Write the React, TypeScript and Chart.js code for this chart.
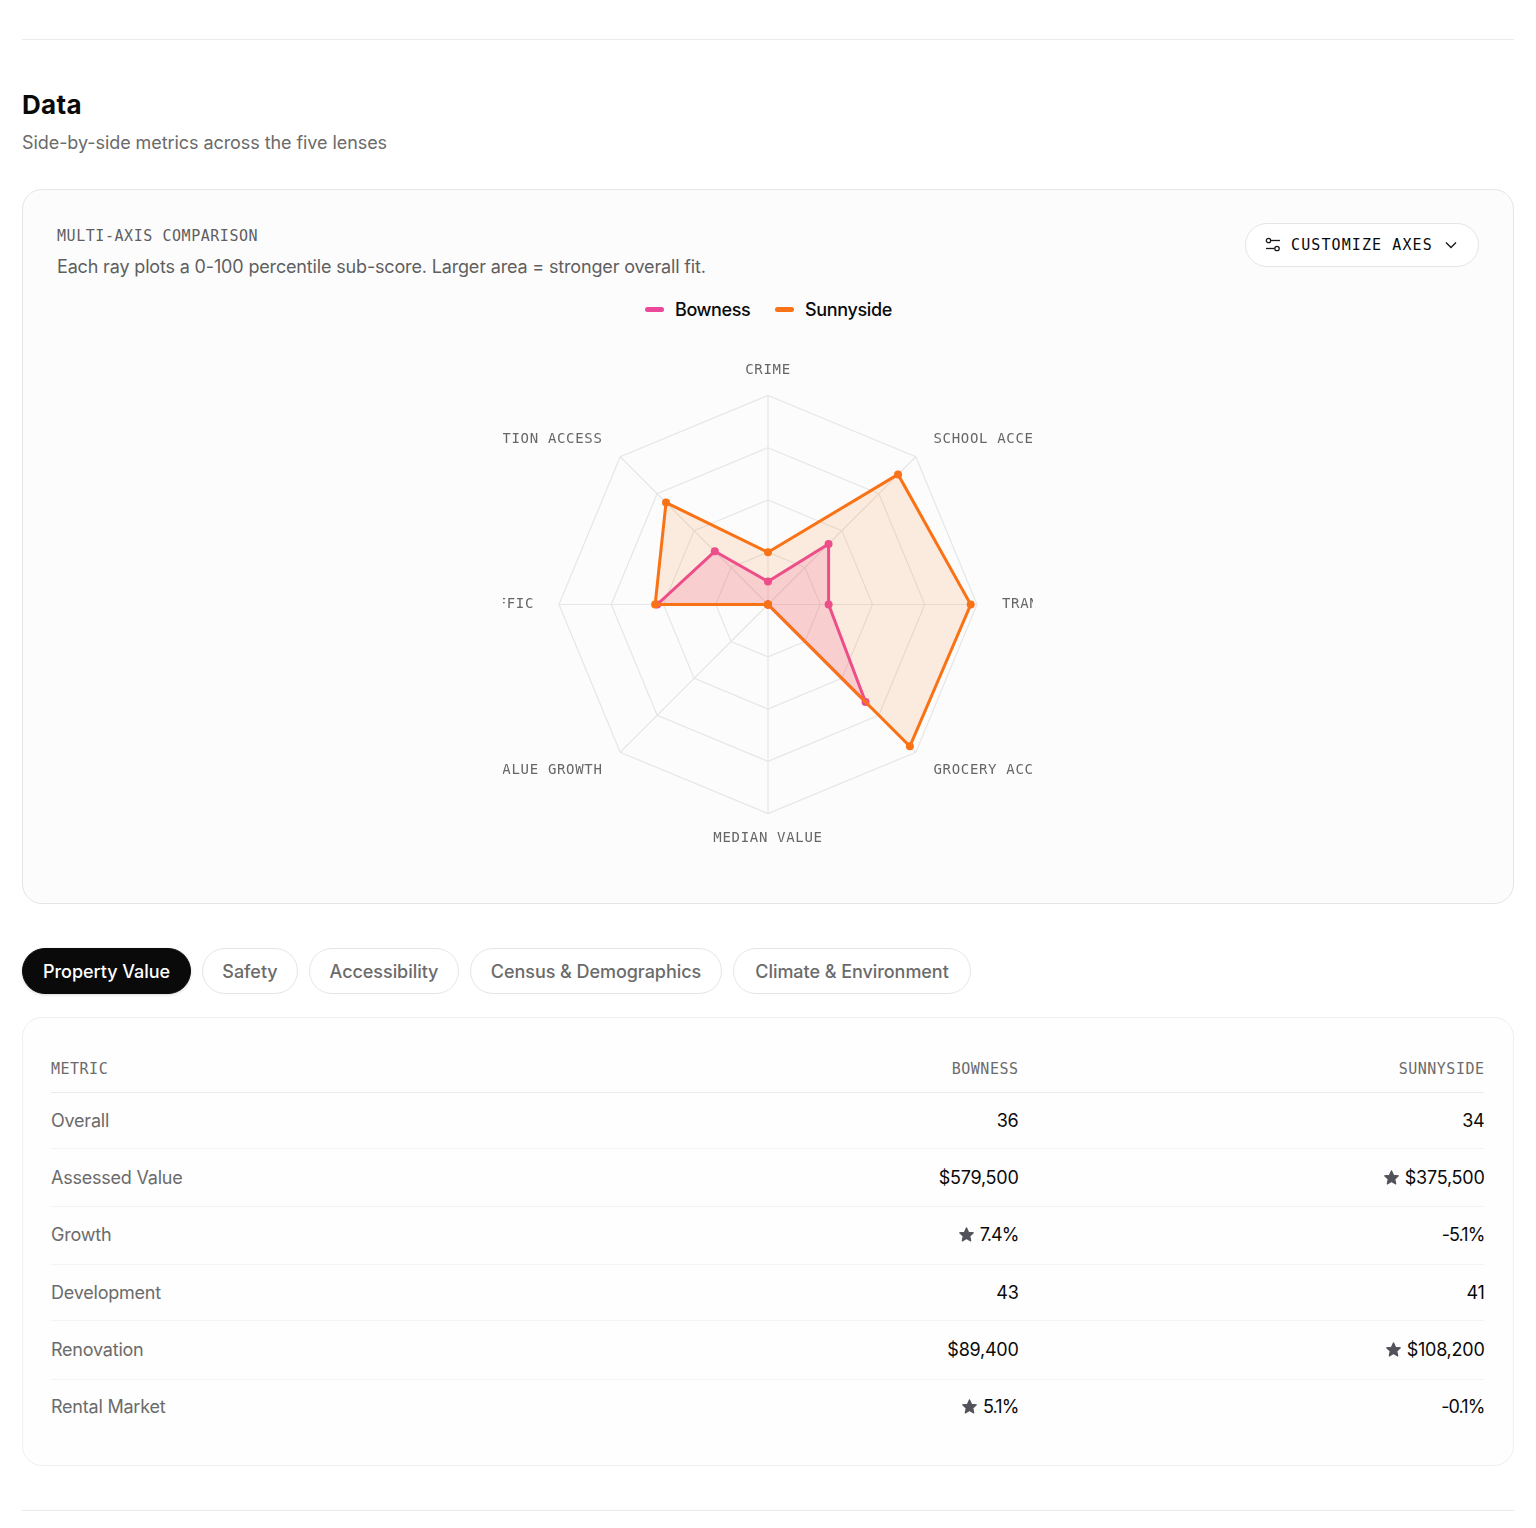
import React, { useEffect, useRef } from "react";
import { Chart, registerables } from "chart.js";

Chart.register(...registerables);

const axes = ["CRIME", "SCHOOL ACCESS", "TRANSIT", "GROCERY ACCESS", "MEDIAN VALUE", "VALUE GROWTH", "TRAFFIC", "RECREATION ACCESS"];
const bowness = [11, 41, 29, 66, 0, 0, 53, 36];
const sunnyside = [25, 88, 97, 96, 0, 0, 54, 69];
const tabs = ["Property Value", "Safety", "Accessibility", "Census & Demographics", "Climate & Environment"];
const tabLefts = [22, 202, 309, 470, 733];
const tabRights = [191, 298, 459, 722, 971];
const metrics = ["Overall", "Assessed Value", "Growth", "Development", "Renovation", "Rental Market"];
const bownessCells = ["36", "$579,500", "7.4%", "43", "$89,400", "5.1%"];
const sunnysideCells = ["34", "$375,500", "-5.1%", "41", "$108,200", "-0.1%"];
const bownessStars = [false, false, true, false, false, true];
const sunnysideStars = [false, true, false, false, true, false];
const rowCentres = [1121, 1178, 1235, 1293, 1350, 1407];
const rowLines = [1092, 1148, 1206, 1264, 1320, 1379];

const SANS = "'Inter', 'Noto Sans', sans-serif";
const MONO = "'DejaVu Sans Mono', monospace";
const PINK = "#ec4899";
const ORANGE = "#f97316";

function Txt(p: { x?: number; r?: number; cy: number; size: number; color: string; font?: string; ls?: number; w?: number; children: React.ReactNode }) {
  const st: React.CSSProperties = {
    position: "absolute", top: p.cy - 20, height: 40, lineHeight: "40px", fontSize: p.size, color: p.color,
    fontFamily: p.font || SANS, letterSpacing: p.ls ?? 0, fontWeight: p.w || 400, whiteSpace: "nowrap",
    display: "flex", alignItems: "center",
  };
  if (p.x !== undefined) st.left = p.x;
  if (p.r !== undefined) st.right = 1536 - p.r;
  return <div style={st}>{p.children}</div>;
}

function Star() {
  return (
    <svg width="17" height="17" viewBox="0 0 24 24" style={{ marginRight: 5, marginTop: -2 }}>
      <path fill="#52525b" stroke="#52525b" strokeWidth="1.5" strokeLinejoin="round" d="M12 2.5l2.9 6.2 6.8.9-5 4.7 1.3 6.8-6-3.4-6 3.4 1.3-6.8-5-4.7 6.8-.9z" />
    </svg>
  );
}

function cellSpacing(v: string) {
  return v.endsWith("%") ? -0.9 : -0.25;
}

function Radar() {
  const ref = useRef<HTMLCanvasElement>(null);
  useEffect(() => {
    const chart = new Chart(ref.current!, {
      type: "radar",
      data: {
        labels: axes,
        datasets: [
          { label: "Bowness", order: 2, data: bowness, borderColor: PINK, backgroundColor: "rgba(236,72,153,0.18)", borderWidth: 3, pointRadius: 4, pointBackgroundColor: PINK, pointBorderColor: PINK, pointBorderWidth: 0, fill: true },
          { label: "Sunnyside", order: 1, data: sunnyside, borderColor: ORANGE, backgroundColor: "rgba(249,115,22,0.13)", borderWidth: 3, pointRadius: 4, pointBackgroundColor: ORANGE, pointBorderColor: ORANGE, pointBorderWidth: 0, fill: true },
        ],
      },
      options: {
        animation: false,
        responsive: false,
        layout: { padding: 56 },
        plugins: { legend: { display: false }, tooltip: { enabled: false } },
        scales: {
          r: {
            min: 0, max: 100,
            ticks: { display: false, stepSize: 25 },
            grid: { color: "#e6e6e6", lineWidth: 1.2 },
            angleLines: { color: "#e6e6e6", lineWidth: 1.2 },
            pointLabels: { display: true, color: "#666666", font: { family: "'DejaVu Sans Mono', monospace", size: 14, lineHeight: 1.2 } },
            afterFit: (s: any) => {
              s.drawingArea = Math.floor(Math.min(s.width, s.height) / 2);
              s.xCenter = s.left + s.width / 2;
              s.yCenter = s.top + s.height / 2 - 0.5;
              const items = s._pointLabelItems || [];
              items.forEach((it: any, i: number) => {
                const p = s.getPointPosition(i, s.drawingArea + 25);
                it.x = p.x;
                it.y = p.y - 8.4;
                it.textAlign = Math.abs(p.x - s.xCenter) < 1 ? "center" : p.x > s.xCenter ? "left" : "right";
                it.visible = true;
              });
            },
          } as any,
        },
      },
      plugins: [{ id: "spacing", beforeDraw: (c: any) => { c.ctx.letterSpacing = "0.68px"; } }],
    } as any);
    return () => chart.destroy();
  }, []);
  return <canvas ref={ref} width={530} height={530} style={{ position: "absolute", left: 503, top: 340, width: 530, height: 530 }} />;
}

export default function App() {
  useEffect(() => { document.body.style.margin = "0"; document.body.style.background = "#ffffff"; }, []);
  const box = (l: number, t: number, r: number, b: number, bg: string, border: string, rad: number): React.CSSProperties => ({
    position: "absolute", left: l, top: t, width: r - l, height: b - t, boxSizing: "border-box", background: bg, border: `1px solid ${border}`, borderRadius: rad,
  });
  const rule = (l: number, r: number, y: number, c: string): React.CSSProperties => ({ position: "absolute", left: l, width: r - l, top: y, height: 1, background: c });
  return (
    <div style={{ position: "relative", width: 1536, height: 1528, overflow: "hidden" }}>
      <div style={rule(22, 1514, 39, "#ebebeb")} />
      <Txt x={22} cy={105} size={26} color="#0a0a0a" w={700} ls={0.3}>Data</Txt>
      <Txt x={22} cy={143} size={18} color="#6b6b6b" ls={-0.07}>Side-by-side metrics across the five lenses</Txt>

      <div style={box(22, 189, 1514, 904, "#fcfcfc", "#e5e5e5", 20)} />
      <Txt x={57} cy={236} size={15} color="#5f5f5f" font={MONO} ls={0.55}>MULTI-AXIS COMPARISON</Txt>
      <Txt x={57} cy={267} size={18} color="#5f5f5f" ls={-0.16}>Each ray plots a 0-100 percentile sub-score. Larger area = stronger overall fit.</Txt>

      <div style={box(1245, 223, 1479, 267, "#ffffff", "#e5e5e5", 22)} />
      <svg width="18" height="18" viewBox="0 0 18 18" style={{ position: "absolute", left: 1264, top: 236 }} fill="none" stroke="#1a1a1a" strokeWidth="1.3">
        <circle cx="4.5" cy="4.5" r="2.2" /><path d="M7 4.5h9" />
        <circle cx="13" cy="12.5" r="2.2" /><path d="M2 12.5h8.5" />
      </svg>
      <Txt x={1291} cy={245} size={15} color="#0a0a0a" font={MONO} ls={1.1}>CUSTOMIZE AXES</Txt>
      <svg width="14" height="14" viewBox="0 0 14 14" style={{ position: "absolute", left: 1444, top: 238 }} fill="none" stroke="#1a1a1a" strokeWidth="1.4">
        <path d="M2 4.5l5 5 5-5" />
      </svg>

      <div style={{ position: "absolute", left: 645, top: 307, width: 19, height: 5, borderRadius: 3, background: PINK }} />
      <Txt x={675} cy={310} size={18} color="#0a0a0a" ls={-0.4} w={500}>Bowness</Txt>
      <div style={{ position: "absolute", left: 775, top: 307, width: 19, height: 5, borderRadius: 3, background: ORANGE }} />
      <Txt x={805} cy={310} size={18} color="#0a0a0a" ls={-0.35} w={500}>Sunnyside</Txt>

      <Radar />

      {tabs.map((t, i) => (
        <div key={t} style={{
          ...box(tabLefts[i], 948, tabRights[i], 994, i === 0 ? "#0a0a0a" : "#ffffff", i === 0 ? "#0a0a0a" : "#e5e5e5", 23),
          display: "flex", alignItems: "center", justifyContent: "center", fontFamily: SANS, fontSize: 18,
          fontWeight: 500, color: i === 0 ? "#ffffff" : "#6b6b6b", whiteSpace: "nowrap",
          boxShadow: i === 0 ? "0 1px 3px rgba(0,0,0,0.15)" : undefined, letterSpacing: -0.05,
        }}>{t}</div>
      ))}

      <div style={box(22, 1017, 1514, 1466, "#fefefe", "#efefef", 20)} />
      <Txt x={51} cy={1069} size={15} color="#6b6b6b" font={MONO} ls={0.5}>METRIC</Txt>
      <Txt r={1018.5} cy={1069} size={15} color="#6b6b6b" font={MONO} ls={0.5}>BOWNESS</Txt>
      <Txt r={1484.5} cy={1069} size={15} color="#6b6b6b" font={MONO} ls={0.5}>SUNNYSIDE</Txt>
      {rowLines.map((y, i) => <div key={y} style={rule(51, 1484, y, i === 0 ? "#ebebeb" : "#f3f3f3")} />)}
      {metrics.map((m, i) => (
        <React.Fragment key={m}>
          <Txt x={51} cy={rowCentres[i]} size={18} color="#6b6b6b" ls={-0.22}>{m}</Txt>
          <Txt r={1018.5} cy={rowCentres[i]} size={18} color="#0a0a0a" ls={cellSpacing(bownessCells[i])}>{bownessStars[i] && <Star />}{bownessCells[i]}</Txt>
          <Txt r={1484.5} cy={rowCentres[i]} size={18} color="#0a0a0a" ls={cellSpacing(sunnysideCells[i])}>{sunnysideStars[i] && <Star />}{sunnysideCells[i]}</Txt>
        </React.Fragment>
      ))}
      <div style={rule(22, 1514, 1510, "#ebebeb")} />
    </div>
  );
}
